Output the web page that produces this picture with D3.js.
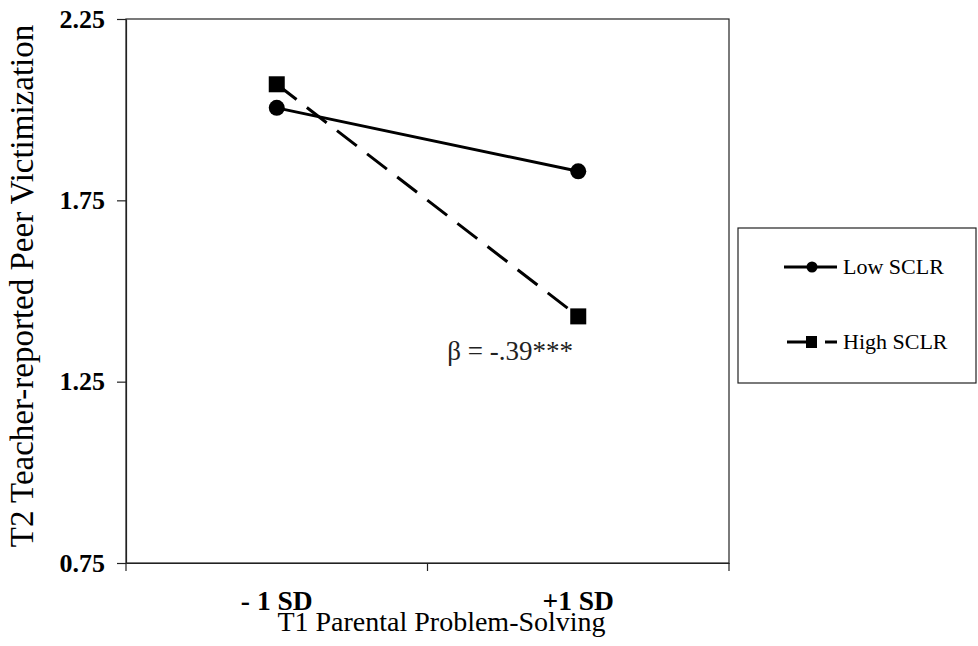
<!DOCTYPE html>
<html>
<head>
<meta charset="utf-8">
<script src="https://cdn.jsdelivr.net/npm/d3@7"></script>
<style>
  body { margin: 0; background: #fff; }
  svg { display: block; font-family: "Liberation Serif", "Times New Roman", serif; }
</style>
</head>
<body>
<svg id="fig" width="978" height="646"></svg>
<script>
// values
const categories = ['- 1 SD', '+1 SD'];
const lowSCLR = [2.005, 1.83];
const highSCLR = [2.07, 1.43];
const yTicks = [0.75, 1.25, 1.75, 2.25];
const seriesNames = ['Low SCLR', 'High SCLR'];
const note = 'β = -.39***';

const svg = d3.select('#fig');
const margin = { top: 19, right: 249, bottom: 83, left: 126 };
const width = +svg.attr('width');
const height = +svg.attr('height');
const innerWidth = width - margin.left - margin.right;
const innerHeight = height - margin.top - margin.bottom;

const xScale = d3.scaleBand().domain(categories).range([0, innerWidth]);
const yScale = d3.scaleLinear().domain([0.75, 2.25]).range([innerHeight, 0]);

const g = svg.append('g').attr('transform', `translate(${margin.left}, ${margin.top})`);

// plot frame
g.append('rect')
    .attr('width', innerWidth).attr('height', innerHeight)
    .attr('fill', 'none').attr('stroke', '#222').attr('stroke-width', 1.2);

// y axis
const yAxis = g.append('g')
    .call(d3.axisLeft(yScale).tickValues(yTicks).tickFormat(d3.format('.2f')).tickSize(9).tickSizeOuter(0).tickPadding(12));
yAxis.selectAll('path, line').attr('stroke', '#222').attr('stroke-width', 1.2);
yAxis.selectAll('text').attr('font-family', 'Liberation Serif').attr('font-size', 26).attr('font-weight', 'bold').attr('fill', '#000');

// x axis: labels in band centres, ticks on band edges
const xAxis = g.append('g').attr('transform', `translate(0, ${innerHeight})`)
    .call(d3.axisBottom(xScale).tickSize(0).tickPadding(27));
xAxis.select('.domain').attr('stroke', '#222').attr('stroke-width', 1.2);
xAxis.selectAll('text').attr('font-family', 'Liberation Serif').attr('font-size', 27.5).attr('font-weight', 'bold').attr('fill', '#000');
const edges = [0].concat(categories.map(c => xScale(c) + xScale.bandwidth()));
xAxis.selectAll('.edge').data(edges).join('line')
    .attr('class', 'edge')
    .attr('x1', d => d).attr('x2', d => d)
    .attr('y1', 0).attr('y2', 8)
    .attr('stroke', '#222').attr('stroke-width', 1.2);

// axis titles
g.append('text')
    .attr('x', innerWidth / 2 + 14).attr('y', innerHeight + 68)
    .attr('text-anchor', 'middle').attr('font-size', 28)
    .text('T1 Parental Problem-Solving');
g.append('text')
    .attr('transform', `translate(${-126 + 33}, ${innerHeight / 2 - 5}) rotate(-90)`)
    .attr('text-anchor', 'middle').attr('font-size', 33)
    .text('T2 Teacher-reported Peer Victimization');

const cx = (d, i) => xScale(categories[i]) + xScale.bandwidth() / 2;
const line = d3.line().x(cx).y(d => yScale(d));

// high SCLR: dashed + squares
g.append('path').datum(highSCLR)
    .attr('d', line).attr('fill', 'none')
    .attr('stroke', '#000').attr('stroke-width', 3).attr('stroke-dasharray', '25,13');
g.selectAll('.sq').data(highSCLR).join('rect')
    .attr('class', 'sq')
    .attr('x', (d, i) => cx(d, i) - 8).attr('y', d => yScale(d) - 8)
    .attr('width', 16).attr('height', 16).attr('fill', '#000');

// low SCLR: solid + circles
g.append('path').datum(lowSCLR)
    .attr('d', line).attr('fill', 'none')
    .attr('stroke', '#000').attr('stroke-width', 3);
g.selectAll('.dot').data(lowSCLR).join('circle')
    .attr('class', 'dot')
    .attr('cx', cx).attr('cy', d => yScale(d)).attr('r', 8).attr('fill', '#000');

// annotation
g.append('text')
    .attr('x', cx(highSCLR[1], 1) - 131).attr('y', yScale(highSCLR[1]) + 44)
    .attr('font-size', 27).attr('fill', '#222')
    .text(note);

// legend
const legend = svg.append('g').attr('transform', 'translate(738, 228)');
legend.append('rect')
    .attr('width', 238).attr('height', 155)
    .attr('fill', '#fff').attr('stroke', '#222').attr('stroke-width', 1.2);
const items = legend.selectAll('.item').data(seriesNames).join('g')
    .attr('class', 'item')
    .attr('transform', (d, i) => `translate(0, ${39 + i * 75})`);
items.append('line')
    .attr('x1', (d, i) => i === 0 ? 46 : 49).attr('x2', 99)
    .attr('stroke', '#000').attr('stroke-width', 3)
    .attr('stroke-dasharray', (d, i) => i === 0 ? null : '30,8,12');
items.filter((d, i) => i === 0).append('circle')
    .attr('cx', 74).attr('r', 5.5).attr('fill', '#000');
items.filter((d, i) => i === 1).append('rect')
    .attr('x', 68).attr('y', -6).attr('width', 11).attr('height', 12).attr('fill', '#000');
items.append('text')
    .attr('x', 105).attr('y', 7)
    .attr('font-size', 22)
    .text(d => d);
</script>
</body>
</html>
